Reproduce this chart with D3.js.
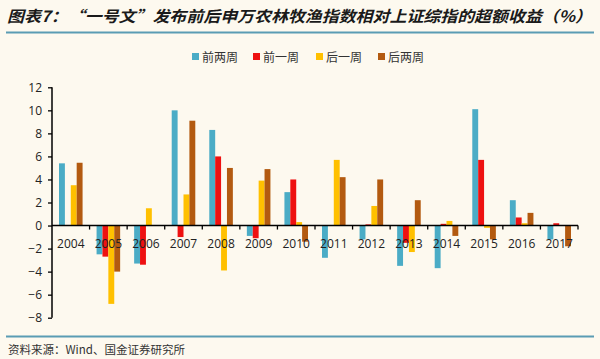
<!DOCTYPE html>
<html><head><meta charset="utf-8">
<script src="https://cdn.jsdelivr.net/npm/d3@7"></script>
<style>
html,body{margin:0;padding:0;background:#fdf9ef;}
svg{display:block;}
</style></head>
<body>
<svg id="c" width="600" height="359"></svg>
<script>
const categories = ["2004","2005","2006","2007","2008","2009","2010","2011","2012","2013","2014","2015","2016","2017"];
const seriesNames = ["前两周","前一周","后一周","后两周"];
const seriesColors = ["#4bacc6","#ee1111","#ffc000","#b35a10"];
const s1 = [5.4,-2.5,-3.3,10.0,8.3,-0.9,2.9,-2.8,-1.2,-3.5,-3.7,10.1,2.2,-1.2];
const s2 = [0,-2.7,-3.4,-1.0,6.0,-1.1,4.0,0,0.1,-1.5,0.15,5.7,0.7,0.2];
const s3 = [3.5,-6.8,1.5,2.7,-3.9,3.9,0.3,5.7,1.7,-2.3,0.4,-0.2,0.2,0];
const s4 = [5.45,-4.0,0,9.1,5.0,4.9,-1.4,4.2,4.0,2.2,-0.9,-1.2,1.1,-1.8];
const seriesValues = [s1,s2,s3,s4];
const yTicks = [-8,-6,-4,-2,0,2,4,6,8,10,12];
const titleText = "图表7：“一号文”发布前后申万农林牧渔指数相对上证综指的超额收益（%）";
const sourceText = "资料来源：Wind、国金证券研究所";

const svg = d3.select("#c");
svg.append("rect").attr("width",600).attr("height",359).attr("fill","#fdf9ef");

// title
svg.append("text").attr("x",7).attr("y",22)
  .attr("font-family","'Noto Sans CJK SC'").attr("font-size",15.5).attr("font-weight","bold")
  .attr("font-style","italic").attr("fill","#1a1a1a").attr("textLength",585).attr("lengthAdjust","spacingAndGlyphs")
  .text(titleText);
svg.append("line").attr("x1",6).attr("x2",594).attr("y1",32.5).attr("y2",32.5)
  .attr("stroke","#5a9cb4").attr("stroke-width",2);

// bottom line & source
svg.append("line").attr("x1",6).attr("x2",594).attr("y1",336.5).attr("y2",336.5)
  .attr("stroke","#5a9cb4").attr("stroke-width",2);
svg.append("text").attr("x",8).attr("y",354)
  .attr("font-family","'Noto Sans CJK SC'").attr("font-size",11.5).attr("fill","#333")
  .text(sourceText);

const x0 = d3.scaleBand().domain(categories).range([52,578]).padding(0);
const x1 = d3.scaleBand().domain(d3.range(4)).range([7, x0.bandwidth()-7]).padding(0);
const y = d3.scaleLinear().domain([-8,12]).range([317.7,87.3]);

const g = svg.append("g");
seriesValues.forEach((vals,si)=>{
  g.selectAll(null).data(vals).enter().append("rect")
    .attr("x",(d,i)=>x0(categories[i])+x1(si))
    .attr("width",x1.bandwidth())
    .attr("y",d=>y(Math.max(0,d)))
    .attr("height",d=>Math.abs(y(d)-y(0)))
    .attr("fill",seriesColors[si]);
});

// y axis
const yAxis = d3.axisLeft(y).tickValues(yTicks).tickSize(4).tickPadding(6).tickFormat(d3.format("d"));
const ya = svg.append("g").attr("transform","translate(52,0)").call(yAxis);
ya.select(".domain").attr("stroke","#000").attr("stroke-width",1.5).attr("d","M0,87.3V317.7");
ya.selectAll(".tick line").attr("stroke","#000").attr("stroke-width",1.3);
ya.selectAll("text").attr("font-family","'Open Sans',sans-serif").attr("font-size",12).attr("fill","#222");

// x axis at zero
const xa = svg.append("g").attr("transform",`translate(0,${y(0)})`);
xa.append("line").attr("x1",52).attr("x2",578).attr("stroke","#000").attr("stroke-width",1.5);
const bounds = categories.map(c=>x0(c)).concat([x0(categories[categories.length-1])+x0.bandwidth()]);
xa.selectAll(null).data(bounds.slice(1)).enter().append("line")
  .attr("x1",d=>d).attr("x2",d=>d).attr("y1",0).attr("y2",4)
  .attr("stroke","#000").attr("stroke-width",1.3);
xa.selectAll(null).data(categories).enter().append("text")
  .attr("x",d=>x0(d)+x0.bandwidth()/2).attr("y",22)
  .attr("text-anchor","middle")
  .attr("font-family","'Open Sans',sans-serif").attr("font-size",12).attr("fill","#222")
  .text(d=>d);

// legend
const legX = [192,253,316,378];
const leg = svg.append("g");
seriesNames.forEach((n,i)=>{
  leg.append("rect").attr("x",legX[i]).attr("y",53).attr("width",7).attr("height",7).attr("fill",seriesColors[i]);
  leg.append("text").attr("x",legX[i]+10).attr("y",61.5)
    .attr("font-family","'Noto Sans CJK SC'").attr("font-size",12).attr("fill","#333").text(n);
});
</script>
</body></html>
